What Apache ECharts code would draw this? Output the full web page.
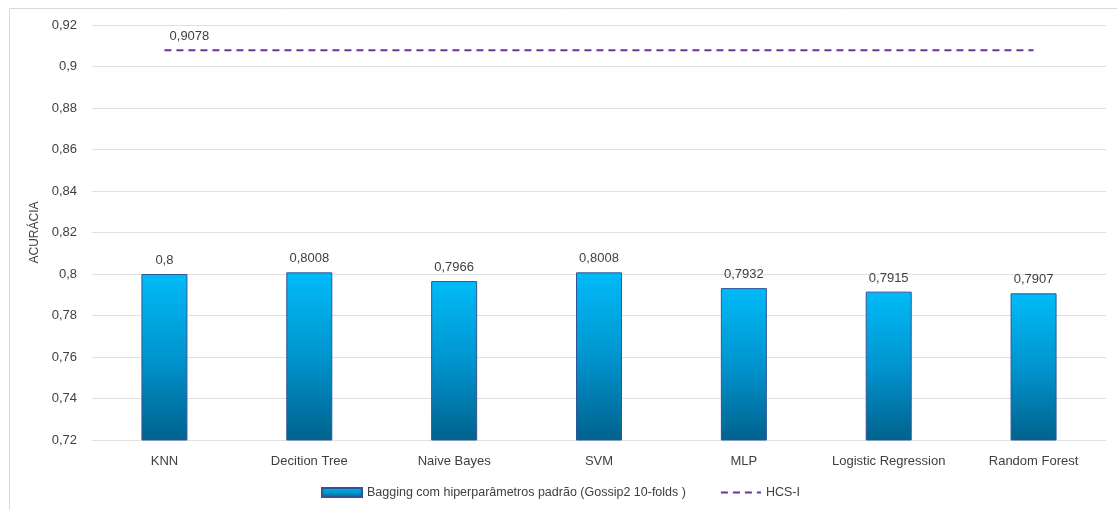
<!DOCTYPE html>
<html><head><meta charset="utf-8">
<script src="https://cdn.jsdelivr.net/npm/echarts@6/dist/echarts.min.js"></script>
<style>html,body{margin:0;padding:0;background:#fff}#c{width:1117px;height:510px}</style>
</head><body><div id="c"></div>
<script>
const categories = ['KNN','Decition Tree','Naive Bayes','SVM','MLP','Logistic Regression','Random Forest'];
const baggingValues = [0.8, 0.8008, 0.7966, 0.8008, 0.7932, 0.7915, 0.7907];
const hcsValues = [0.9078, 0.9078, 0.9078, 0.9078, 0.9078, 0.9078, 0.9078];
const barName = 'Bagging com hiperparâmetros padrão (Gossip2 10-folds )';
const lineName = 'HCS-I';
const yMin = 0.72, yMax = 0.92, yStep = 0.02;

const fmt = v => String(Math.round(v*10000)/10000).replace('.', ',');
const font = 'Liberation Sans';
const chart = echarts.init(document.getElementById('c'));
chart.setOption({
  animation: false,
  textStyle: { fontFamily: font },
  graphic: [{ type: 'rect', shape: { x: 9.5, y: 8.5, width: 1120, height: 520 }, style: { fill: 'none', stroke: '#d9d9d9', lineWidth: 1 } }],
  grid: { left: 92, right: 11, top: 25, bottom: 70 },
  legend: {
    bottom: 6, left: 316, itemGap: 34, itemWidth: 40, itemHeight: 9,
    textStyle: { fontFamily: font, fontSize: 12.5, color: '#404040' },
    data: [
      { name: barName, icon: 'rect' },
      { name: lineName, itemStyle: { opacity: 0 } }
    ]
  },
  xAxis: {
    type: 'category', data: categories,
    axisLine: { show: false }, axisTick: { show: false },
    axisLabel: { fontSize: 13, color: '#404040', margin: 15, interval: 0 }
  },
  yAxis: {
    type: 'value', min: yMin, max: yMax, interval: yStep,
    name: 'ACURÁCIA', nameLocation: 'middle', nameGap: 50, nameRotate: 90,
    nameTextStyle: { fontSize: 12, color: '#404040' },
    axisLine: { show: false }, axisTick: { show: false },
    axisLabel: { fontSize: 13, color: '#404040', margin: 15, formatter: v => fmt(v) },
    splitLine: { lineStyle: { color: '#e0e0e0', width: 1 } }
  },
  series: [
    {
      name: barName, type: 'bar', data: baggingValues, barWidth: 46,
      itemStyle: {
        color: new echarts.graphic.LinearGradient(0, 0, 0, 1, [
          { offset: 0, color: '#00BBF8' },
          { offset: 0.5, color: '#0095CF' },
          { offset: 1, color: '#00628E' }
        ]),
        borderColor: '#2F5597', borderWidth: 1
      },
      label: { show: true, position: 'top', distance: 7, fontSize: 13, color: '#404040', formatter: p => fmt(p.value) }
    },
    {
      name: lineName, type: 'line', data: hcsValues, symbol: 'none',
      lineStyle: { color: '#7030A0', width: 2, type: [7, 5] },
      itemStyle: { color: '#7030A0' },
      label: { show: false },
      markPoint: {
        symbol: 'circle', symbolSize: 0,
        data: [{ coord: [0, hcsValues[0]], value: hcsValues[0] }],
        label: { show: true, position: 'top', offset: [25, -2], fontSize: 13, color: '#404040', formatter: p => fmt(p.value) }
      }
    }
  ]
});
</script></body></html>
